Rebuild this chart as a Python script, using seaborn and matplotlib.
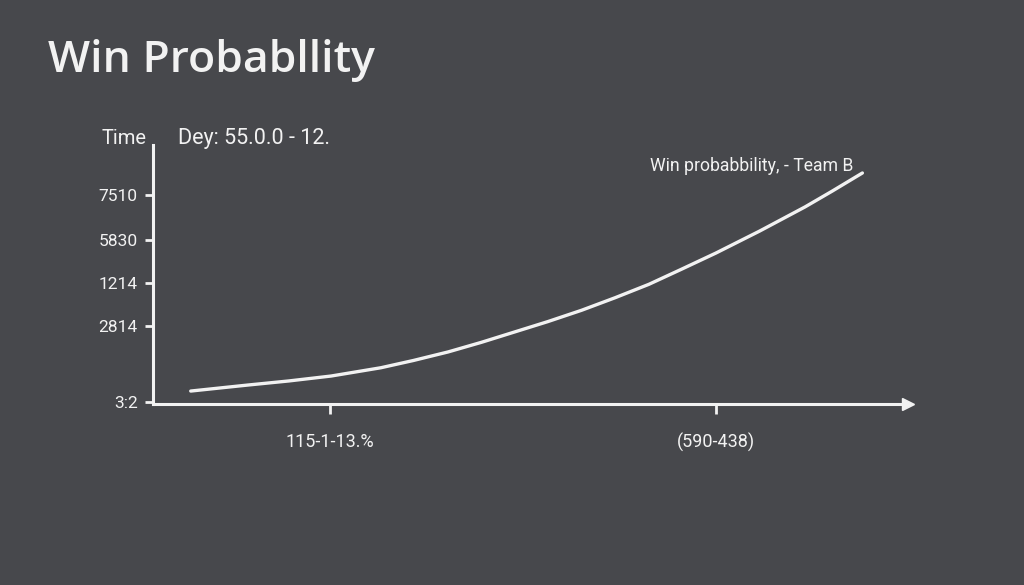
import numpy as np
import pandas as pd
import matplotlib
matplotlib.use("Agg")
import matplotlib.pyplot as plt
import seaborn as sns

# curve (x along the time axis, y = win probability, both 0..1)
time_pos = [0.050, 0.125, 0.180, 0.236, 0.302, 0.345, 0.391, 0.435, 0.479, 0.523, 0.568,
            0.612, 0.657, 0.700, 0.746, 0.804, 0.864, 0.900, 0.940]
win_prob = [0.050, 0.073, 0.089, 0.108, 0.140, 0.168, 0.201, 0.238, 0.278, 0.318, 0.362,
            0.410, 0.462, 0.520, 0.583, 0.668, 0.761, 0.822, 0.892]

ytick_pos = [0.008, 0.30, 0.467, 0.633, 0.807]
ytick_labels = ["3:2", "2814", "1214", "5830", "7510"]
xtick_pos = [0.234, 0.746]
xtick_labels = ["115-1-13.%", "(590-438)"]

df = pd.DataFrame({"time": time_pos, "prob": win_prob})

bg = "#47484c"
fg = "#f2f2f2"

sns.set_theme(style="dark")
plt.rcParams["font.family"] = ["Roboto", "DejaVu Sans"]

fig = plt.figure(figsize=(10.24, 5.85), dpi=100, facecolor=bg)
ax = fig.add_axes([0.1494, 0.3094, 0.737, 0.4427])
ax.set_facecolor(bg)

sns.lineplot(data=df, x="time", y="prob", ax=ax, color=fg, linewidth=2.4)

ax.set_xlim(0, 1)
ax.set_ylim(0, 1)
ax.set_xlabel("")
ax.set_ylabel("")
ax.grid(False)

for s in ["top", "right"]:
    ax.spines[s].set_visible(False)
for s in ["left", "bottom"]:
    ax.spines[s].set_color(fg)
    ax.spines[s].set_linewidth(2.2)

ax.set_yticks(ytick_pos)
ax.set_yticklabels(ytick_labels)
ax.set_xticks(xtick_pos)
ax.set_xticklabels(xtick_labels)
ax.tick_params(axis="y", colors=fg, labelsize=12.5, length=6, width=2, direction="out", pad=5, left=True)
ax.tick_params(axis="x", colors=fg, labelsize=13, length=7, width=2, direction="out", pad=14, bottom=True)

# arrow head on the x axis
ax.plot(1, 0, ">", color=fg, markersize=9, transform=ax.get_yaxis_transform(), clip_on=False)

fig.text(0.047, 0.897, "Win Probabllity", color=fg, fontsize=32, family=["Open Sans", "DejaVu Sans"],
         fontweight="semibold", va="center", ha="left")
fig.text(0.143, 0.764, "Time", color=fg, fontsize=14.5, va="center", ha="right")
fig.text(0.174, 0.764, "Dey: 55.0.0 - 12.", color=fg, fontsize=15.5, va="center", ha="left")
fig.text(0.833, 0.716, "Win probabbility, - Team B", color=fg, fontsize=12.7, va="center", ha="right")

fig.savefig("out.png", dpi=100, facecolor=bg)
